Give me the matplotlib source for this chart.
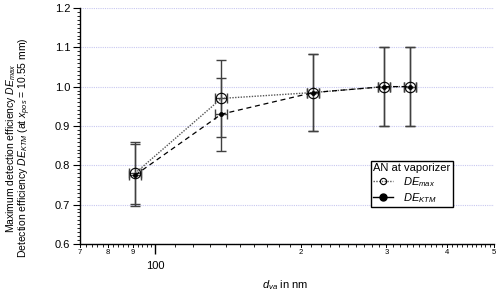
import numpy as np
import matplotlib
matplotlib.use("Agg")
import matplotlib.pyplot as plt
from matplotlib.ticker import FixedLocator, NullFormatter, MultipleLocator
from matplotlib.lines import Line2D

plt.rcParams['font.family'] = ['Liberation Sans', 'DejaVu Sans']
plt.rcParams['mathtext.fontset'] = 'custom'
plt.rcParams['mathtext.it'] = 'Liberation Sans:italic'
plt.rcParams['mathtext.rm'] = 'Liberation Sans'

# data
dva = [91, 137, 212, 297, 336]
dva_err = [2.7, 4.0, 6.2, 8.6, 9.7]
de_max = [0.78, 0.97, 0.985, 1.0, 1.0]
de_max_err = [0.078, 0.097, 0.099, 0.10, 0.10]
de_ktm = [0.775, 0.93, 0.985, 1.0, 1.0]
de_ktm_err = [0.078, 0.093, 0.099, 0.10, 0.10]

minor_labels = {70: "7", 80: "8", 90: "9", 200: "2", 300: "3", 400: "4", 500: "5"}

fig = plt.figure(figsize=(5, 2.96), dpi=100)
ax = fig.add_axes([0.16, 0.176, 0.828, 0.797])

ecol = '#404040'
# error bars
ax.errorbar(dva, de_max, yerr=de_max_err, xerr=dva_err, fmt='none', ecolor=ecol,
            elinewidth=1.0, capsize=3.5, capthick=1.0, zorder=2)
ax.errorbar(dva, de_ktm, yerr=de_ktm_err, xerr=dva_err, fmt='none', ecolor=ecol,
            elinewidth=1.0, capsize=3.5, capthick=1.0, zorder=2)

# lines
ax.plot(dva, de_max, linestyle=(0, (1, 1)), color='#555555', linewidth=1.0,
        marker='o', markersize=7.5, markerfacecolor='none', markeredgecolor='black',
        markeredgewidth=0.8, zorder=3)
ax.plot(dva, de_ktm, linestyle=(0, (4, 3)), color='black', linewidth=0.9,
        marker='o', markersize=2.5, markerfacecolor='black', markeredgecolor='black',
        zorder=4)

ax.set_xscale('log')
ax.set_xlim(70, 500)
ax.set_ylim(0.6, 1.2)

# y axis
ax.yaxis.set_major_locator(MultipleLocator(0.1))
ax.yaxis.set_minor_locator(MultipleLocator(0.01))
ax.yaxis.set_major_formatter(plt.FormatStrFormatter('%.1f'))
ax.tick_params(axis='y', which='major', length=5, width=0.8, labelsize=8, pad=2)
ax.tick_params(axis='y', which='minor', length=2.5, width=0.6)

# x axis ticks
minor_ticks = list(range(70, 100, 2)) + list(range(110, 510, 10))
minor_ticks = [t for t in minor_ticks if t not in minor_labels]
ax.xaxis.set_major_locator(FixedLocator([100]))
ax.xaxis.set_major_formatter(plt.FixedFormatter(["100"]))
ax.xaxis.set_minor_locator(FixedLocator(minor_ticks))
ax.xaxis.set_minor_formatter(NullFormatter())
ax.tick_params(axis='x', which='major', length=7, width=1.0, labelsize=8, pad=5)
ax.tick_params(axis='x', which='minor', length=2, width=0.6)

# small labels at 7,8,9,2,3,4,5 with slightly longer ticks
for v, lab in minor_labels.items():
    ax.annotate(lab, xy=(v, 0), xycoords=('data', 'axes fraction'),
                xytext=(0, -4), textcoords='offset points', ha='center', va='top',
                fontsize=5.5)
    ax.add_line(Line2D([v, v], [0, -0.014], transform=ax.get_xaxis_transform(),
                       color='black', linewidth=0.7, clip_on=False))

for s in ['top', 'right']:
    ax.spines[s].set_visible(False)
ax.spines['left'].set_linewidth(1.0)
ax.spines['bottom'].set_linewidth(1.0)

ax.grid(axis='y', which='major', color='#c8c8f0', linestyle=(0, (1, 1)), linewidth=0.8)
ax.set_axisbelow(True)

fig.text(0.57, 0.038, r"$d_{va}$ in nm", ha='center', va='center', fontsize=8)
fig.text(0.022, 0.5, r"Maximum detection efficiency $DE_{max}$", rotation=90,
         ha='center', va='center', fontsize=7.5)
fig.text(0.050, 0.5, r"Detection efficiency $DE_{KTM}$ (at $x_{pos}$ = 10.55 mm)",
         rotation=90, ha='center', va='center', fontsize=7.5)

h1 = Line2D([], [], linestyle=(0, (1, 1)), color='#555555', linewidth=1.0, marker='o',
            markersize=4.5, markerfacecolor='none', markeredgecolor='black',
            markeredgewidth=0.8)
h2 = Line2D([], [], linestyle='-', color='black', linewidth=1.0, marker='o',
            markersize=5, markerfacecolor='black')
leg = ax.legend([h1, h2], [r"$DE_{max}$", r"$DE_{KTM}$"], title="AN at vaporizer",
                loc='upper left', bbox_to_anchor=(0.703, 0.352), fontsize=8,
                title_fontsize=8, frameon=True, fancybox=False, edgecolor='black',
                framealpha=1, handlelength=1.8, borderpad=0.2, labelspacing=0.2,
                handletextpad=0.9, borderaxespad=0)
leg.get_frame().set_linewidth(1.0)
leg._legend_box.align = "left"

fig.savefig("out.png", dpi=100)
